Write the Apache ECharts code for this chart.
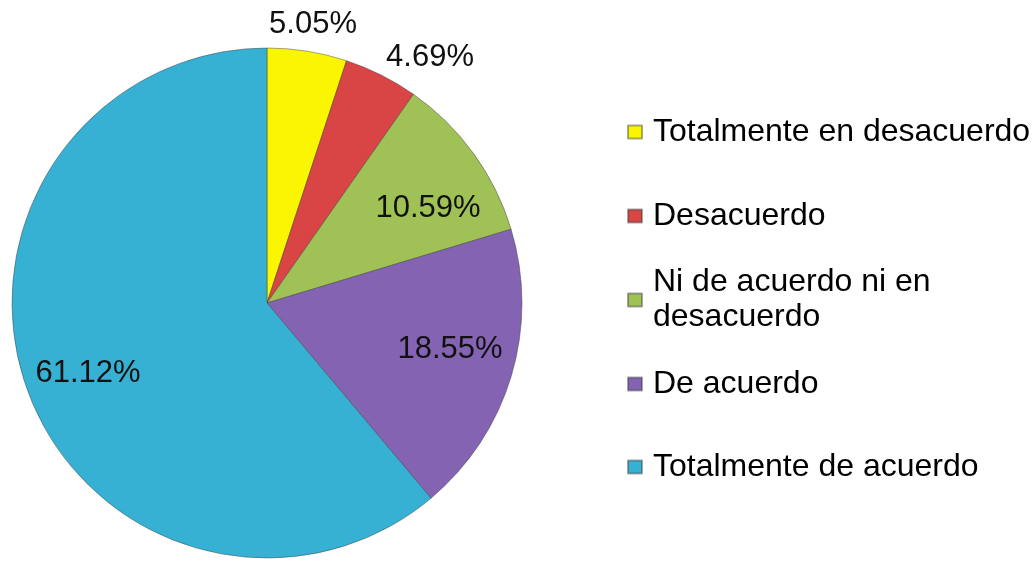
<!DOCTYPE html>
<html>
<head>
<meta charset="utf-8">
<script src="https://cdn.jsdelivr.net/npm/echarts@6/dist/echarts.min.js"></script>
<style>
html,body{margin:0;padding:0;background:#fff;}
#chart{width:1034px;height:564px;}
</style>
</head>
<body>
<div id="chart"></div>
<script>
var categories = ['Totalmente en desacuerdo', 'Desacuerdo', 'Ni de acuerdo ni en desacuerdo', 'De acuerdo', 'Totalmente de acuerdo'];
var values = [5.05, 4.69, 10.59, 18.55, 61.12];
var colors = ['#FAF500', '#D94545', '#9FC155', '#8463B3', '#36B1D4'];
var labelCenters = [[313, 24], [430, 57], [428, 208], [450, 349], [88, 373]];
var legendTops = [114.5, 198.5, 247.5, 366.5, 449.5];

var chart = echarts.init(document.getElementById('chart'));
var FONT = '"Liberation Sans", Arial, sans-serif';

var legends = categories.map(function (name, i) {
  var twoLine = (i === 2);
  return {
    data: [name],
    orient: 'vertical',
    left: 627,
    top: legendTops[i],
    padding: 0,
    itemWidth: 14,
    itemHeight: 13,
    icon: 'rect',
    selectedMode: false,
    formatter: function (n) {
      return n === 'Ni de acuerdo ni en desacuerdo' ? 'Ni de acuerdo ni en\ndesacuerdo' : n;
    },
    textStyle: {
      fontFamily: FONT,
      fontSize: 32,
      color: '#000',
      lineHeight: 35,
      padding: twoLine ? [35, 0, 0, 6] : [0, 0, 0, 6]
    }
  };
});

chart.setOption({
  animation: false,
  backgroundColor: '#fff',
  color: colors,
  legend: legends,
  series: [{
    type: 'pie',
    center: [267, 303],
    radius: 255,
    startAngle: 90,
    clockwise: true,
    avoidLabelOverlap: false,
    itemStyle: {
      borderColor: 'rgba(60,60,60,0.45)',
      borderWidth: 1
    },
    label: {
      show: true,
      position: 'inside',
      formatter: function (p) { return p.value.toFixed(2) + '%'; },
      fontFamily: FONT,
      fontSize: 31,
      color: '#111'
    },
    labelLine: { show: false },
    labelLayout: function (params) {
      var c = labelCenters[params.dataIndex];
      return { x: c[0], y: c[1], align: 'center', verticalAlign: 'middle' };
    },
    data: categories.map(function (name, i) {
      return { name: name, value: values[i] };
    })
  }]
});
</script>
</body>
</html>
